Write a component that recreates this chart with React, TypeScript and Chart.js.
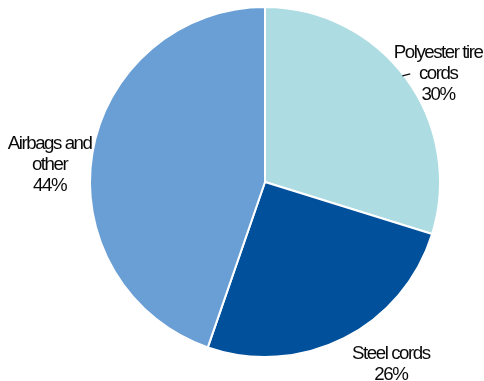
import React, { useEffect, useRef } from "react";
import { Chart, registerables } from "chart.js";

Chart.register(...registerables);

const categories = [["Polyester tire", "cords"], ["Steel cords"], ["Airbags and", "other"]];
const shareValues = [29.8, 25.5, 44.7];
const shareLabels = ["30%", "26%", "44%"];
const sliceColors = ["#ADDDE3", "#00509C", "#6A9FD6"];

// label block centres, as fractions of the outer radius from the pie centre
const LABEL_PLACEMENT: [number, number][] = [
  [0.985, -0.628],
  [0.715, 1.031],
  [-1.235, -0.105],
];
const LINE_H = 21;
const SPACING = -1.45;

const labelPlugin = {
  id: "sliceLabels",
  afterDraw(chart: any) {
    const meta = chart.getDatasetMeta(0);
    const ctx = chart.ctx as CanvasRenderingContext2D;
    meta.data.forEach((arc: any, i: number) => {
      const { x, y, outerRadius } = arc.getProps(["x", "y", "outerRadius"], true);
      const [fx, fy] = LABEL_PLACEMENT[i];
      const cx = x + fx * outerRadius;
      const cy = y + fy * outerRadius;
      const lines = [...categories[i], shareLabels[i]];
      ctx.save();
      ctx.fillStyle = "#0A0A0A";
      ctx.font = '18.7px "Liberation Sans", Arial, sans-serif';
      (ctx as any).letterSpacing = SPACING + "px";
      ctx.textAlign = "left";
      ctx.textBaseline = "alphabetic";
      lines.forEach((t, j) => {
        const by = cy + (j - (lines.length - 1) / 2) * LINE_H + 6.8;
        const w = ctx.measureText(t).width + SPACING;
        ctx.fillText(t, cx - w / 2, by);
      });
      if (i === 0) {
        ctx.strokeStyle = "#111111";
        ctx.lineWidth = 1.3;
        ctx.beginPath();
        ctx.moveTo(x + 0.785 * outerRadius, y - 0.606 * outerRadius);
        ctx.lineTo(x + 0.83 * outerRadius, y - 0.618 * outerRadius);
        ctx.stroke();
      }
      ctx.restore();
    });
  },
};

export default function App() {
  const ref = useRef<HTMLCanvasElement | null>(null);
  useEffect(() => {
    document.body.style.margin = "0";
    const chart = new Chart(ref.current!, {
      type: "pie",
      data: {
        labels: categories.map((c) => c.join(" ")),
        datasets: [
          {
            data: shareValues,
            backgroundColor: sliceColors,
            borderColor: "#FFFFFF",
            borderWidth: 2,
          },
        ],
      },
      options: {
        animation: false,
        responsive: false,
        layout: { padding: { left: 89, right: 43, top: 6, bottom: 23 } },
        plugins: { legend: { display: false }, tooltip: { enabled: false } },
      },
      plugins: [labelPlugin],
    });
    return () => chart.destroy();
  }, []);
  return (
    <div style={{ width: 484, height: 381 }}>
      <canvas ref={ref} width={484} height={381} style={{ display: "block" }} />
    </div>
  );
}
